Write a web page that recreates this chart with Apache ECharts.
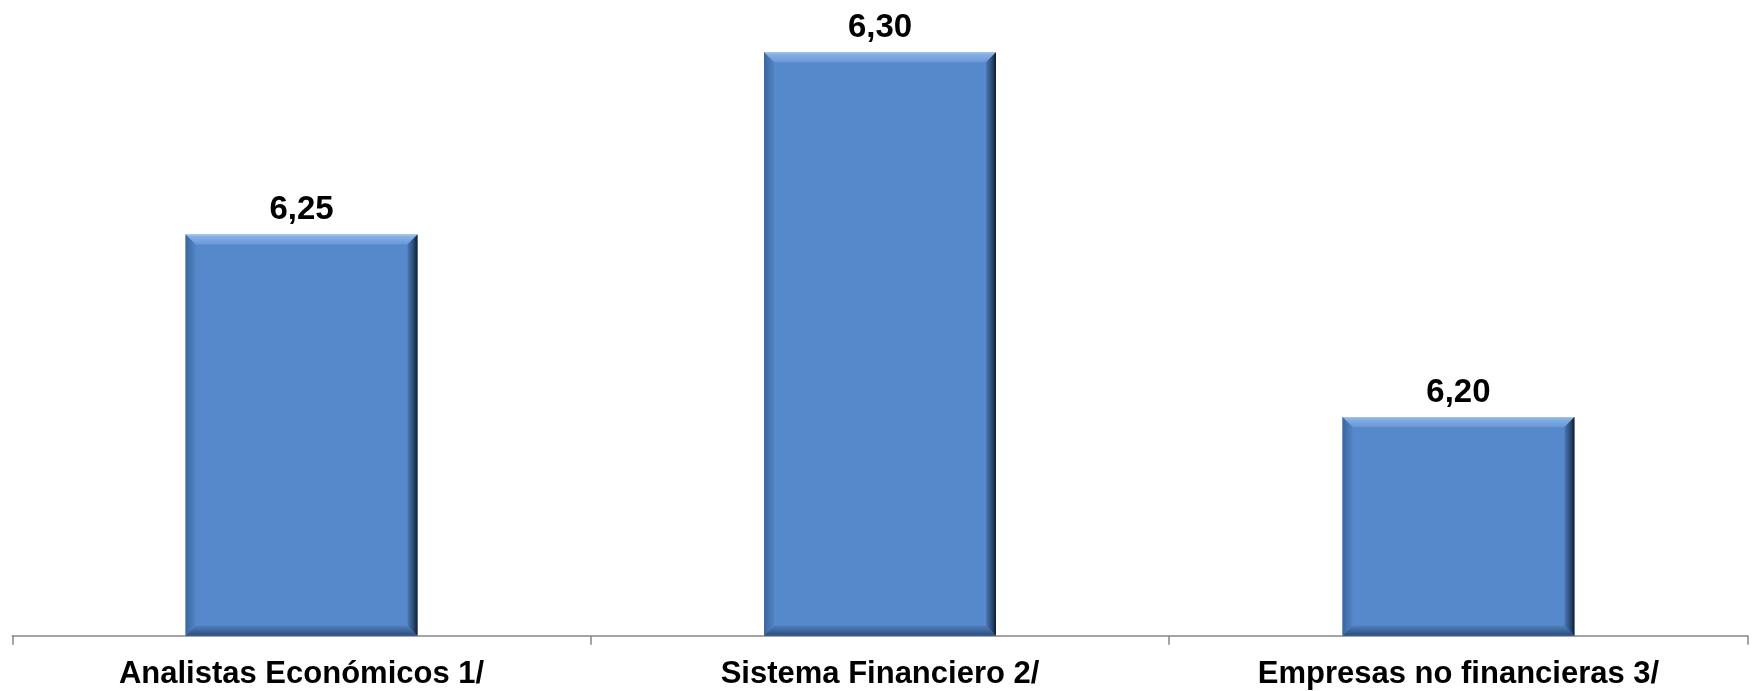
<!DOCTYPE html>
<html><head><meta charset="utf-8">
<script src="https://cdn.jsdelivr.net/npm/echarts@6/dist/echarts.min.js"></script>
<style>html,body{margin:0;padding:0;background:#fff}#c{width:1754px;height:691px}</style>
</head><body><div id="c"></div>
<script>
const categories = ['Analistas Económicos 1/', 'Sistema Financiero 2/', 'Empresas no financieras 3/'];
const values = [6.25, 6.30, 6.20];
const yMin = 6.14, yMax = 6.30;

const G = echarts.graphic;
function renderBevel(params, api) {
  const idx = api.value(0), val = api.value(1);
  const top = api.coord([idx, val]);
  const base = api.coord([idx, yMin]);
  const w = api.size([1, 0])[0] * 0.401;
  const x0 = top[0] - w / 2, x1 = top[0] + w / 2, y0 = top[1], y1 = base[1];
  const b = 10;
  return {
    type: 'group',
    children: [
      {type: 'rect', shape: {x: x0, y: y0, width: x1 - x0, height: y1 - y0}, style: {fill: '#5689cc'}},
      {type: 'polygon', shape: {points: [[x0, y0], [x1, y0], [x1 - b, y0 + b], [x0 + b, y0 + b]]},
        style: {fill: new G.LinearGradient(0, 0, 0, 1, [{offset: 0, color: '#a9c6ec'}, {offset: 0.2, color: '#86b0e6'}, {offset: 1, color: '#6898d6'}])}},
      {type: 'polygon', shape: {points: [[x0, y0], [x0 + b, y0 + b], [x0 + b, y1 - b], [x0, y1]]},
        style: {fill: new G.LinearGradient(0, 0, 1, 0, [{offset: 0, color: '#3b679f'}, {offset: 1, color: '#5283c3'}])}},
      {type: 'polygon', shape: {points: [[x0, y1], [x1, y1], [x1 - b, y1 - b], [x0 + b, y1 - b]]},
        style: {fill: new G.LinearGradient(0, 0, 0, 1, [{offset: 0, color: '#4f7fbd'}, {offset: 1, color: '#2c4d7b'}])}},
      {type: 'polygon', shape: {points: [[x1, y0], [x1, y1], [x1 - b, y1 - b], [x1 - b, y0 + b]]},
        style: {fill: new G.LinearGradient(0, 0, 1, 0, [{offset: 0, color: '#4a78b4'}, {offset: 0.6, color: '#2b4a74'}, {offset: 1, color: '#0e1a2c'}])}}
    ]
  };
}

const chart = echarts.init(document.getElementById('c'), null, {renderer: 'canvas'});
chart.setOption({
  animation: false,
  backgroundColor: '#ffffff',
  grid: {left: 12.3, right: 6.3, top: 52.3, bottom: 55.3, containLabel: false, outerBoundsMode: 'none'},
  xAxis: {
    type: 'category', data: categories,
    axisLine: {lineStyle: {color: '#868686', width: 1.5}},
    axisTick: {show: true, length: 9, lineStyle: {color: '#868686', width: 1.5}},
    axisLabel: {color: '#000', fontFamily: 'Liberation Sans, Arial, sans-serif', fontWeight: 'bold', fontSize: 31, margin: 23}
  },
  yAxis: {type: 'value', min: yMin, max: yMax, show: false, splitLine: {show: false}},
  series: [
    {
      type: 'custom', data: values.map((v, i) => [i, v]), renderItem: renderBevel, z: 2
    },
    {
      type: 'bar', data: values, barWidth: '40.1%', z: 3,
      itemStyle: {color: 'rgba(0,0,0,0)'},
      label: {
        show: true, position: 'top', distance: 8,
        formatter: p => p.value.toFixed(2).replace('.', ','),
        color: '#000', fontFamily: 'Liberation Sans, Arial, sans-serif', fontWeight: 'bold', fontSize: 33
      }
    }
  ]
});
</script></body></html>
